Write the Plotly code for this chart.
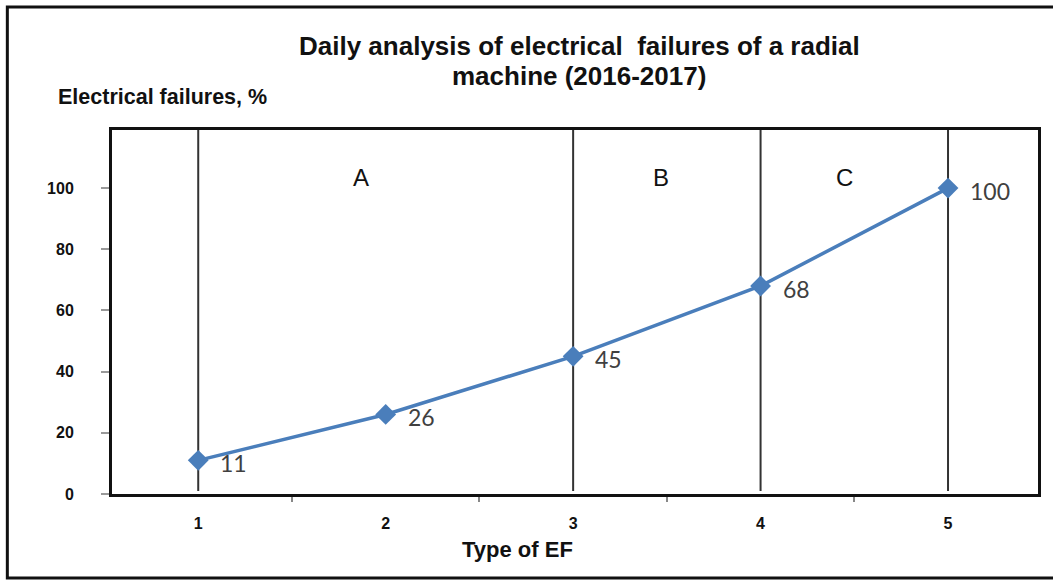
import plotly.graph_objects as go

# data
ef_types = [1, 2, 3, 4, 5]
failures_pct = [11, 26, 45, 68, 100]
zone_lines = [1, 3, 4, 5]
zone_names = ["A", "B", "C"]
zone_label_x = [1.87, 3.47, 4.45]
y_ticks = [0, 20, 40, 60, 80, 100]
title_lines = ["Daily analysis of electrical  failures of a radial", "machine (2016-2017)"]

W, H = 1053, 580
L, R, T, B = 112, 1041, 130, 494


def px(x):
    return (x - L) / (R - L)


def py(y):
    return (B - y) / (B - T)


BOLD = "Liberation Sans, Arial"
TICK_FONT = dict(family=BOLD, size=16, color="#111", weight="bold")

fig = go.Figure(
    go.Scatter(
        x=ef_types,
        y=failures_pct,
        mode="lines+markers",
        line=dict(color="#4a7ebb", width=3.5),
        marker=dict(symbol="diamond", size=16, color="#4a7ebb"),
        cliponaxis=False,
        showlegend=False,
    )
)

# zone separators
for xv in zone_lines:
    fig.add_shape(type="line", x0=xv, x1=xv, y0=1, y1=119, xref="x", yref="y",
                  line=dict(color="#333333", width=2), layer="below")

for name, xv in zip(zone_names, zone_label_x):
    fig.add_annotation(x=xv, y=103.5, text=name, showarrow=False,
                       font=dict(family=BOLD, size=24, color="#111"))

# data labels
for xv, yv in zip(ef_types, failures_pct):
    fig.add_annotation(x=xv, y=yv, text=str(yv), showarrow=False, xanchor="left",
                       xshift=20, yshift=-3,
                       font=dict(family="Lato, Open Sans", size=23, color="#404040"))

# titles (pixel positions converted to paper coords)
for line, ypix in zip(title_lines, [46, 76]):
    fig.add_annotation(x=px(581), y=py(ypix), xref="paper", yref="paper",
                       xanchor="center", yanchor="middle",
                       text="<b>" + line + "</b>", showarrow=False,
                       font=dict(family=BOLD, size=26, color="#111"))
fig.add_annotation(x=px(56), y=py(97), xref="paper", yref="paper",
                   xanchor="left", yanchor="middle",
                   text="<b>Electrical failures, %</b>", showarrow=False,
                   font=dict(family=BOLD, size=21.5, color="#111"))
fig.add_annotation(x=px(519), y=py(549), xref="paper", yref="paper",
                   xanchor="center", yanchor="middle",
                   text="<b>Type of EF</b>", showarrow=False,
                   font=dict(family=BOLD, size=22, color="#111"))

# outer frame
fig.add_shape(type="rect", xref="paper", yref="paper",
              x0=px(7), x1=px(1070), y0=py(578), y1=py(7),
              line=dict(color="#111", width=3), layer="below")

fig.update_layout(
    width=W, height=H,
    margin=dict(l=L, r=W - R, t=T, b=H - B),
    paper_bgcolor="white", plot_bgcolor="white",
    xaxis=dict(range=[0.54, 5.48], tickvals=ef_types, ticks="", showgrid=False, zeroline=False,
               showline=True, mirror=True, linecolor="#111", linewidth=3,
               tickfont=TICK_FONT, ticklabelstandoff=13,
               minor=dict(tickmode="linear", tick0=0.5, dtick=1, ticks="outside",
                          ticklen=5, tickcolor="#888", tickwidth=1.5)),
    yaxis=dict(range=[0, 119], tickvals=y_ticks, ticks="outside",
               ticklen=8, tickcolor="#999", tickwidth=1.5, showgrid=False, zeroline=False,
               showline=True, mirror=True, linecolor="#111", linewidth=3,
               tickfont=TICK_FONT, ticklabelstandoff=24),
)

fig.write_html("out.html", config={"displayModeBar": False},
               post_script="document.body.style.margin='0';")
